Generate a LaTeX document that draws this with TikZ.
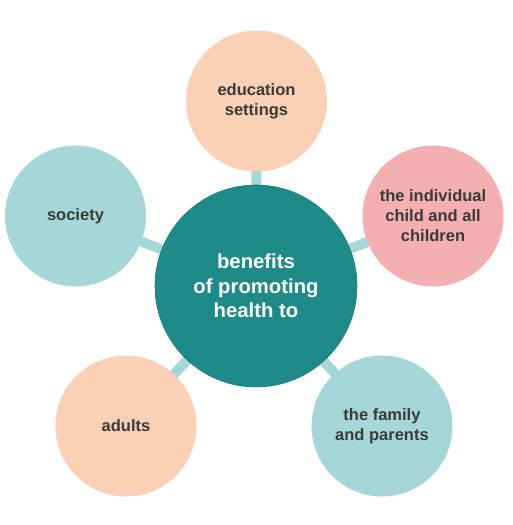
\documentclass[tikz,border=0pt]{standalone}
\usepackage{fontspec}
\setmainfont{Liberation Sans}
\definecolor{hub}{HTML}{1F8B88}
\definecolor{hubedge}{HTML}{1A7E7B}
\definecolor{peach}{HTML}{FAD0B6}
\definecolor{pinkc}{HTML}{F4AFB1}
\definecolor{aqua}{HTML}{A6D7D8}
\definecolor{txt}{HTML}{3A3A3A}
\begin{document}
\begin{tikzpicture}[x=1pt,y=-1pt,
  outer/.style={circle,minimum size=141pt,inner sep=0pt,draw=none,align=center,
    text=txt,font=\fontsize{16.5}{20}\selectfont\bfseries},
  hubnode/.style={circle,minimum size=202pt,inner sep=0pt,fill=hub,draw=hubedge,line width=0.6pt,
    align=center,text=white,font=\fontsize{20.3}{24.5}\selectfont\bfseries},
  link/.style={draw=aqua,line width=10pt}]
\useasboundingbox (0,0) rectangle (512,525);
\coordinate (c0) at (256,286);
\coordinate (c1) at (256.5,101);
\coordinate (c2) at (433,216);
\coordinate (c3) at (382,426);
\coordinate (c4) at (126,426);
\coordinate (c5) at (75.5,216);
\draw[link] (c0) -- (c1);
\draw[link] (c0) -- (c2);
\draw[link] (c0) -- (c3);
\draw[link] (c0) -- (c4);
\draw[link] (c0) -- (c5);
\node[outer,fill=peach] (edu) at (c1) {education\\settings};
\node[outer,fill=pinkc] (ind) at (c2) {the individual\\child and all\\children};
\node[outer,fill=aqua] (fam) at (c3) {the family\\and parents};
\node[outer,fill=peach] (adu) at (c4) {adults};
\node[outer,fill=aqua] (soc) at (c5) {society};
\node[hubnode] (hub) at (c0) {benefits\\of promoting\\health to};
\end{tikzpicture}
\end{document}
